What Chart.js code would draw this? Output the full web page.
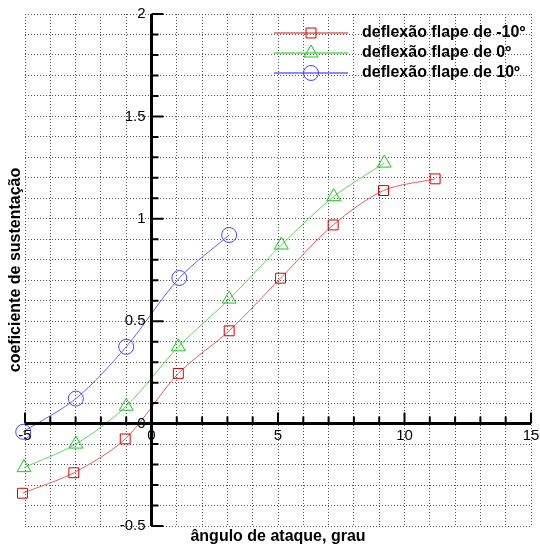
<!DOCTYPE html>
<html>
<head>
<meta charset="utf-8">
<script src="https://cdn.jsdelivr.net/npm/chart.js@4.4.0/dist/chart.umd.min.js"></script>
<style>
  html, body { margin: 0; padding: 0; background: #fff; }
</style>
</head>
<body>
<canvas id="myChart" width="540" height="548"></canvas>
<script>
'use strict';

// DATA
let seriesNames = ['deflexão flape de -10º', 'deflexão flape de 0º', 'deflexão flape de 10º'];

let alphaMinus10 = [-5.1, -3.07, -1.04, 1.06, 3.07, 5.1, 7.18, 9.17, 11.21];
let clMinus10 = [-0.34, -0.24, -0.075, 0.245, 0.453, 0.71, 0.97, 1.138, 1.195];

let alphaZero = [-5.04, -2.99, -1.0, 1.06, 3.07, 5.13, 7.2, 9.2];
let clZero = [-0.215, -0.1, 0.085, 0.375, 0.608, 0.872, 1.108, 1.272];

let alphaPlus10 = [-5.07, -2.99, -1.0, 1.1, 3.07];
let clPlus10 = [-0.04, 0.122, 0.375, 0.711, 0.921];

let xTickLabels = [-5, 0, 5, 10, 15];
let yTickLabels = [-0.5, 0, 0.5, 1, 1.5, 2];

let xTitle = 'ângulo de ataque, grau';
let yTitle = 'coeficiente de sustentação';

// FUNCTIONS
function toPoints(xs, ys) {
  let pts = [];
  for (let i = 0; i < xs.length; i++) {
    pts.push({ x: xs[i], y: ys[i] });
  }
  return pts;
}

function isLabelled(v, list) {
  return list.some(l => Math.abs(l - v) < 1e-6);
}

function drawMarker(ctx, style, x, y, r, color) {
  ctx.save();
  ctx.strokeStyle = color;
  ctx.lineWidth = 1;
  ctx.beginPath();
  if (style === 'rect') {
    let s = Math.SQRT1_2 * r;
    ctx.rect(x - s, y - s, 2 * s, 2 * s);
  } else if (style === 'triangle') {
    ctx.moveTo(x, y - r);
    ctx.lineTo(x + r * Math.sin(Math.PI / 3), y + r / 2);
    ctx.lineTo(x - r * Math.sin(Math.PI / 3), y + r / 2);
    ctx.closePath();
  } else {
    ctx.arc(x, y, r, 0, Math.PI * 2);
  }
  ctx.stroke();
  ctx.restore();
}

// axes through zero, tick marks, tick labels, titles and legend
const zeroAxes = {
  id: 'zeroAxes',
  afterDraw(chart) {
    const ctx = chart.ctx;
    const area = chart.chartArea;
    const x = chart.scales.x;
    const y = chart.scales.y;
    const x0 = x.getPixelForValue(0);
    const y0 = y.getPixelForValue(0);

    ctx.save();
    ctx.strokeStyle = '#000';

    // tick marks
    ctx.lineWidth = 2;
    ctx.beginPath();
    x.ticks.forEach(t => {
      let px = x.getPixelForValue(t.value);
      let len = isLabelled(t.value, xTickLabels) ? 11 : 7;
      ctx.moveTo(px, y0);
      ctx.lineTo(px, y0 - len);
    });
    y.ticks.forEach(t => {
      let py = y.getPixelForValue(t.value);
      let len = isLabelled(t.value, yTickLabels) ? 12 : 7;
      ctx.moveTo(x0, py);
      ctx.lineTo(x0 + len, py);
    });
    ctx.stroke();

    // axis lines
    ctx.lineWidth = 3;
    ctx.beginPath();
    ctx.moveTo(area.left, y0);
    ctx.lineTo(area.right, y0);
    ctx.moveTo(x0, area.top);
    ctx.lineTo(x0, area.bottom);
    ctx.stroke();

    // tick labels
    ctx.fillStyle = '#000';
    ctx.font = '15px "Liberation Sans", Arial, sans-serif';
    ctx.textAlign = 'center';
    ctx.textBaseline = 'top';
    xTickLabels.forEach(v => {
      ctx.fillText(String(v), x.getPixelForValue(v), y0 + 5);
    });
    ctx.textAlign = 'right';
    ctx.textBaseline = 'middle';
    yTickLabels.forEach(v => {
      ctx.fillText(String(v), x0 - 6, y.getPixelForValue(v));
    });

    // axis titles
    ctx.font = 'bold 16px "Liberation Sans", Arial, sans-serif';
    ctx.textAlign = 'center';
    ctx.textBaseline = 'middle';
    ctx.fillText(xTitle, (area.left + area.right) / 2, area.bottom + 11);
    ctx.save();
    ctx.translate(16, (area.top + area.bottom) / 2);
    ctx.rotate(-Math.PI / 2);
    ctx.fillText(yTitle, 0, 0);
    ctx.restore();

    // legend
    ctx.textAlign = 'left';
    chart.data.datasets.forEach((ds, i) => {
      let ly = area.top + 19 + i * 20;
      ctx.strokeStyle = ds.borderColor;
      ctx.lineWidth = 1.5;
      ctx.beginPath();
      ctx.moveTo(274, ly);
      ctx.lineTo(348, ly);
      ctx.stroke();
      drawMarker(ctx, ds.pointStyle, 311, ly, ds.pointRadius, ds.pointBorderColor);
      ctx.fillStyle = '#000';
      ctx.fillText(ds.label, 362, ly);
    });

    ctx.restore();
  }
};

const data = {
  datasets: [
    {
      label: seriesNames[0],
      data: toPoints(alphaMinus10, clMinus10),
      borderColor: 'rgb(235,95,95)',
      borderWidth: 1,
      pointStyle: 'rect',
      pointRadius: 7,
      pointBorderColor: 'rgb(215,0,0)',
      pointBackgroundColor: 'rgba(0,0,0,0)',
      pointBorderWidth: 1,
      clip: false
    },
    {
      label: seriesNames[1],
      data: toPoints(alphaZero, clZero),
      borderColor: 'rgb(90,220,90)',
      borderWidth: 1,
      pointStyle: 'triangle',
      pointRadius: 8,
      pointBorderColor: 'rgb(30,200,30)',
      pointBackgroundColor: 'rgba(0,0,0,0)',
      pointBorderWidth: 1,
      clip: false
    },
    {
      label: seriesNames[2],
      data: toPoints(alphaPlus10, clPlus10),
      borderColor: 'rgb(100,100,255)',
      borderWidth: 1,
      pointStyle: 'circle',
      pointRadius: 7.5,
      pointBorderColor: 'rgb(70,70,245)',
      pointBackgroundColor: 'rgba(0,0,0,0)',
      pointBorderWidth: 1,
      clip: false
    }
  ]
};

const config = {
  type: 'line',
  data: data,
  options: {
    responsive: false,
    animation: false,
    tension: 0.3,
    layout: {
      padding: { left: 25, right: 7, top: 14, bottom: 22 }
    },
    plugins: {
      legend: { display: false },
      tooltip: { enabled: false }
    },
    scales: {
      x: {
        type: 'linear',
        min: -5,
        max: 15,
        ticks: { display: false, stepSize: 1 },
        grid: { color: '#555', drawTicks: false },
        border: { display: false, dash: [1, 2] },
        afterFit: s => { s.height = 0; }
      },
      y: {
        type: 'linear',
        min: -0.5,
        max: 2,
        ticks: { display: false, stepSize: 0.1 },
        grid: { color: '#555', drawTicks: false },
        border: { display: false, dash: [1, 2] },
        afterFit: s => { s.width = 0; }
      }
    }
  },
  plugins: [zeroAxes]
};

const myChart = new Chart(document.getElementById('myChart'), config);
</script>
</body>
</html>
